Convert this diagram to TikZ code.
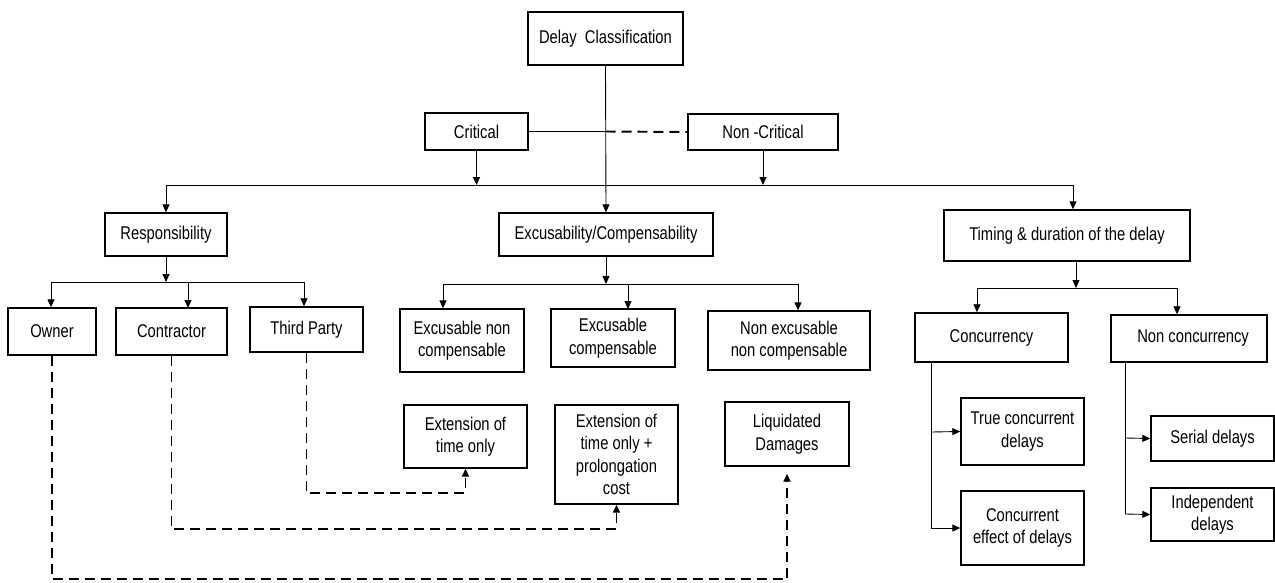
\documentclass[tikz,border=0pt]{standalone}
\usepackage{fontspec}
\setmainfont{Liberation Sans}[FakeStretch=0.8]
\usetikzlibrary{arrows.meta}
\tikzset{
  box/.style={draw, line width=0.8pt, align=center, inner sep=1pt},
  link/.style={line width=0.5pt, -{Triangle[length=1.6mm,width=1.4mm]}},
  bar/.style={line width=0.5pt},
  dsh/.style={line width=1.1pt, dash pattern=on 2mm off 1.2mm},
  dsharr/.style={dsh, -{Triangle[length=1.6mm,width=1.4mm]}},
}
\begin{document}
\begin{tikzpicture}[x=0.02cm,y=-0.02cm,font=\fontsize{10.5}{12.8}\selectfont]
\useasboundingbox (0,0) rectangle (1275,582);

% top
\node[box,minimum width=3.1cm,minimum height=1.06cm] (dc) at (605.5,38.5) {Delay\ \ Classification};
\node[box,minimum width=2.06cm,minimum height=0.74cm] (crit) at (476.5,131.5) {Critical};
\node[box,minimum width=3cm,minimum height=0.72cm] (ncrit) at (763,132) {Non -Critical};

% second row
\node[box,minimum width=2.44cm,minimum height=0.86cm] (resp) at (166,234.5) {Responsibility};
\node[box,minimum width=4.28cm,minimum height=0.86cm] (exc) at (606,234.5) {Excusability/Compensability};
\node[box,minimum width=4.92cm,minimum height=1.02cm] (tim) at (1067,235.5) {Timing \& duration of the delay};

% third row
\node[box,minimum width=1.76cm,minimum height=0.94cm] (own) at (52,331.5) {Owner};
\node[box,minimum width=2.22cm,minimum height=0.94cm] (con) at (171.5,331.5) {Contractor};
\node[box,minimum width=2.26cm,minimum height=0.9cm] (tp) at (306.5,329.5) {Third Party};
\node[box,minimum width=2.48cm,minimum height=1.26cm] (enc) at (462,340.5) {Excusable non\\compensable};
\node[box,minimum width=2.48cm,minimum height=1.16cm] (ec) at (613,338) {Excusable\\compensable};
\node[box,minimum width=3.24cm,minimum height=1.18cm] (nenc) at (789,340.5) {Non excusable\\non compensable};
\node[box,minimum width=3.06cm,minimum height=0.98cm] (conc) at (991.5,337.5) {Concurrency};
\node[box,minimum width=3.12cm,minimum height=0.94cm] (nconc) at (1189,338.5) {\ \ Non concurrency};

% results
\node[box,minimum width=2.46cm,minimum height=1.26cm] (eot) at (465.5,436.5) {Extension of\\time only};
\node[box,minimum width=2.46cm,minimum height=1.98cm] (eotp) at (616.5,454.5) {Extension of\\time only +\\prolongation\\cost};
\node[box,minimum width=2.48cm,minimum height=1.28cm] (ld) at (787,434) {Liquidated\\Damages};
\node[box,minimum width=2.46cm,minimum height=1.34cm] (tcd) at (1022.5,431.5) {True concurrent\\delays};
\node[box,minimum width=2.46cm,minimum height=1.48cm] (ced) at (1022.5,528) {Concurrent\\effect of delays};
\node[box,minimum width=2.46cm,minimum height=0.9cm] (ser) at (1212.5,438.5) {Serial delays};
\node[box,minimum width=2.46cm,minimum height=1.06cm] (ind) at (1212.5,514.5) {Independent\\delays};

% bus lines
\coordinate (b1) at (166,185);
\coordinate (b1e) at (1073,185);
\coordinate (b2) at (51,282);
\coordinate (b2e) at (304,282);
\coordinate (b3) at (443,284);
\coordinate (b3e) at (798,284);
\coordinate (b4) at (977,288);
\coordinate (b4e) at (1177,288);

\draw[link] (dc.south) -- (exc.north);
\coordinate (mid) at (dc.south |- crit.east);
\draw[bar] (crit.east) -- (mid);
\draw[dsh] (mid) -- (ncrit.west);
\draw[link] (crit.south) -- (crit.south |- b1);
\draw[link] (ncrit.south) -- (ncrit.south |- b1);
\draw[bar] (b1) -- (b1e);
\draw[link] (b1) -- (resp.north);
\draw[link] (b1e) -- (b1e |- tim.north);

\draw[link] (resp.south) -- (resp.south |- b2);
\draw[bar] (b2) -- (b2e);
\draw[link] (b2) -- (b2 |- own.north);
\draw[link] (188,282) -- (188,308);
\draw[link] (b2e) -- (b2e |- tp.north);

\draw[link] (exc.south) -- (exc.south |- b3);
\draw[bar] (b3) -- (b3e);
\draw[link] (b3) -- (b3 |- enc.north);
\draw[link] (628,284) -- (628,309);
\draw[link] (b3e) -- (b3e |- nenc.north);

\draw[link] (1076,261) -- (1076,288);
\draw[bar] (b4) -- (b4e);
\draw[link] (b4) -- (b4 |- conc.north);
\draw[link] (b4e) -- (b4e |- nconc.north);

\draw[bar] (931,362) -- (931,528);
\draw[link] (931,432) -- (tcd.west);
\draw[link] (931,528) -- (ced.west);
\draw[bar] (1125,362) -- (1125,514);
\draw[link] (1125,438) -- (ser.west);
\draw[link] (1125,514) -- (ind.west);

% dashed
\draw[dsharr] (tp.south) -- (tp.south |- 0,493) -| (eot.south);
\draw[dsharr] (con.south) -- (con.south |- 0,529) -| (eotp.south);
\draw[dsharr,shorten >=4pt] (own.south) -- (own.south |- 0,579) -| (ld.south);
\end{tikzpicture}
\end{document}
